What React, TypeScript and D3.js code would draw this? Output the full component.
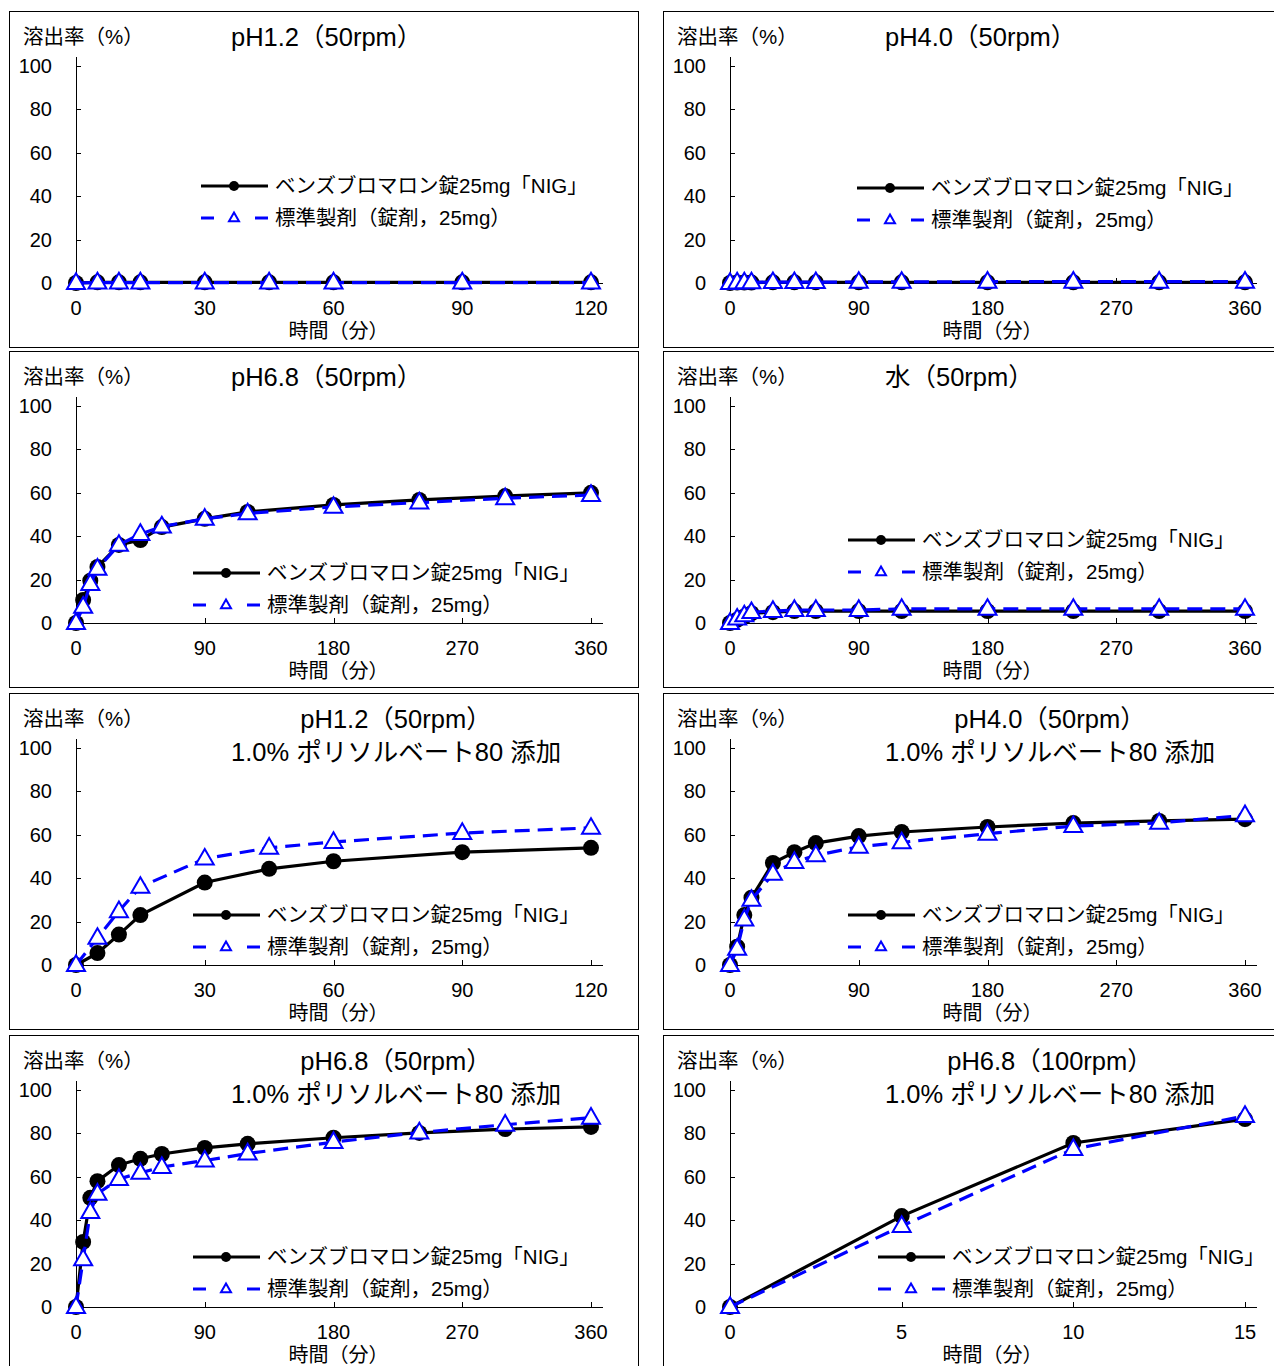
import React from "react";
import * as d3 from "d3";

// ---------- data ----------
const timesA = [0, 5, 10, 15, 30, 45, 60, 90, 120];
const timesB = [0, 5, 10, 15, 30, 45, 60, 90, 120, 180, 240, 300, 360];
const timesC = [0, 5, 10, 15];

const ticksA = [0, 30, 60, 90, 120];
const ticksB = [0, 90, 180, 270, 360];
const ticksC = [0, 5, 10, 15];
const yTicks = [0, 20, 40, 60, 80, 100];

const seriesNames = ["ベンズブロマロン錠25mg「NIG」", "標準製剤（錠剤，25mg）"];
const yAxisTitle = "溶出率（%）";
const xAxisTitle = "時間（分）";

// panel 1: pH1.2 (50rpm)
const p1Test = [0, 0.3, 0.3, 0.3, 0.3, 0.3, 0.3, 0.3, 0.3];
const p1Ref = [0, 0.2, 0.2, 0.2, 0.2, 0.2, 0.2, 0.2, 0.2];
// panel 2: pH4.0 (50rpm)
const p2Test = [0, 0.2, 0.2, 0.2, 0.3, 0.3, 0.3, 0.3, 0.3, 0.3, 0.3, 0.3, 0.3];
const p2Ref = [0, 0.2, 0.3, 0.3, 0.4, 0.4, 0.4, 0.5, 0.5, 0.6, 0.6, 0.6, 0.6];
// panel 3: pH6.8 (50rpm)
const p3Test = [0, 10.6, 19.5, 25.8, 36, 38.2, 44.2, 48, 51.2, 54.4, 56.7, 58.5, 60];
const p3Ref = [0, 7.5, 18, 25, 36, 41, 44.5, 48, 50.5, 53.5, 55.5, 57.5, 59];
// panel 4: water (50rpm)
const p4Test = [0, 1.5, 3, 4.5, 5, 5.5, 5.5, 5.5, 5.5, 5.5, 5.5, 5.5, 5.5];
const p4Ref = [0, 2, 3.5, 5, 5.5, 6, 6, 6, 6.5, 6.5, 6.5, 6.5, 6.5];
// panel 5: pH1.2 (50rpm) + 1.0% polysorbate 80
const p5Test = [0, 5.5, 14, 23, 38, 44.3, 47.8, 52, 54];
const p5Ref = [0, 12.5, 24.8, 36, 49, 54, 56.7, 60.8, 63.2];
// panel 6: pH4.0 (50rpm) + 1.0% polysorbate 80
const p6Test = [0, 8.4, 23, 31, 47, 52, 56.2, 59.4, 61.3, 63.6, 65.4, 66.4, 67.2];
const p6Ref = [0, 7.5, 21, 30, 42, 47.5, 50.5, 54.5, 56.5, 60.5, 64, 65.5, 69];
// panel 7: pH6.8 (50rpm) + 1.0% polysorbate 80
const p7Test = [0, 30, 50.3, 58, 65.4, 68.3, 70.5, 73.3, 75.2, 78, 80.2, 82, 83];
const p7Ref = [0, 22, 43.8, 52.2, 59, 61.8, 64.5, 67.5, 70.7, 76, 80.4, 84, 87.2];
// panel 8: pH6.8 (100rpm) + 1.0% polysorbate 80
const p8Test = [0, 41.9, 75.6, 86.6];
const p8Ref = [0, 37.3, 72.8, 88];

const titles = [
  ["pH1.2（50rpm）"],
  ["pH4.0（50rpm）"],
  ["pH6.8（50rpm）"],
  ["水（50rpm）"],
  ["pH1.2（50rpm）", "1.0% ポリソルベート80 添加"],
  ["pH4.0（50rpm）", "1.0% ポリソルベート80 添加"],
  ["pH6.8（50rpm）", "1.0% ポリソルベート80 添加"],
  ["pH6.8（100rpm）", "1.0% ポリソルベート80 添加"],
];

// ---------- layout ----------
const FONT = "'Liberation Sans', Arial, 'Noto Sans CJK JP', sans-serif";
const panelLeft = [9, 663];
const panelTop = [11, 351, 693, 1035];
const PW = 629;
const PH = 336;
const AX0 = 67; // y axis x offset in panel
const AX1 = 582; // x max offset
const AY100 = 55;
const AY0 = 272;

type PanelDef = {
  times: number[];
  xmax: number;
  ticks: number[];
  test: number[];
  ref: number[];
  legX: number;
  legY: number;
};

const panels: PanelDef[] = [
  { times: timesA, xmax: 120, ticks: ticksA, test: p1Test, ref: p1Ref, legX: 192, legY: 175 },
  { times: timesB, xmax: 360, ticks: ticksB, test: p2Test, ref: p2Ref, legX: 194, legY: 177 },
  { times: timesB, xmax: 360, ticks: ticksB, test: p3Test, ref: p3Ref, legX: 184, legY: 222 },
  { times: timesB, xmax: 360, ticks: ticksB, test: p4Test, ref: p4Ref, legX: 185, legY: 189 },
  { times: timesA, xmax: 120, ticks: ticksA, test: p5Test, ref: p5Ref, legX: 184, legY: 222 },
  { times: timesB, xmax: 360, ticks: ticksB, test: p6Test, ref: p6Ref, legX: 185, legY: 222 },
  { times: timesB, xmax: 360, ticks: ticksB, test: p7Test, ref: p7Ref, legX: 184, legY: 222 },
  { times: timesC, xmax: 15, ticks: ticksC, test: p8Test, ref: p8Ref, legX: 215, legY: 222 },
];

const BLUE = "#0000ff";

function triPath(cx: number, cy: number, s: number) {
  const h = s * 0.87;
  return `M${cx},${cy - h * 0.62}L${cx + s / 2},${cy + h * 0.38}L${cx - s / 2},${cy + h * 0.38}Z`;
}

function Panel({ idx }: { idx: number }) {
  const p = panels[idx];
  const col = idx % 2;
  const row = Math.floor(idx / 2);
  const px = panelLeft[col];
  const py = panelTop[row];
  const x = d3.scaleLinear().domain([0, p.xmax]).range([AX0, AX1]);
  const y = d3.scaleLinear().domain([0, 100]).range([AY0, AY100]);
  const pts = (vals: number[]) => p.times.map((t, i) => [x(t), y(vals[i])] as [number, number]);
  const line = d3.line<[number, number]>();
  const testPts = pts(p.test);
  const refPts = pts(p.ref);
  const title = titles[idx];
  const lx = p.legX;
  const ly = p.legY;
  return (
    <g transform={`translate(${px},${py})`}>
      <rect x={0.5} y={0.5} width={PW} height={PH} fill="#fff" stroke="#000" strokeWidth={1} />
      {/* axes */}
      <line x1={AX0 + 0.5} x2={AX0 + 0.5} y1={AY0} y2={AY100 - 9} stroke="#000" strokeWidth={1} />
      <line x1={AX0} x2={AX1 + 12} y1={AY0 + 0.5} y2={AY0 + 0.5} stroke="#000" strokeWidth={1} />
      {yTicks.map((v) => (
        <g key={"y" + v}>
          <line x1={AX0} x2={AX0 + 5} y1={Math.round(y(v)) + 0.5} y2={Math.round(y(v)) + 0.5} stroke="#000" />
          <text x={43} y={y(v)} dy="0.35em" textAnchor="end" fontSize={20} fontFamily={FONT}>
            {v}
          </text>
        </g>
      ))}
      {p.ticks.map((v) => (
        <g key={"x" + v}>
          <line x1={Math.round(x(v)) + 0.5} x2={Math.round(x(v)) + 0.5} y1={AY0} y2={AY0 - 5} stroke="#000" />
          <text x={x(v)} y={297} dy="0.35em" textAnchor="middle" fontSize={20} fontFamily={FONT}>
            {v}
          </text>
        </g>
      ))}
      <text x={(AX0 + AX1) / 2 + 5} y={320} dy="0.35em" textAnchor="middle" fontSize={20} fontFamily={FONT}>
        {xAxisTitle}
      </text>
      <text x={14} y={26} dy="0.35em" fontSize={20.5} fontFamily={FONT}>
        {yAxisTitle}
      </text>
      {title.length === 1 ? (
        <text x={222} y={26} dy="0.35em" fontSize={25.5} fontFamily={FONT}>
          {title[0]}
        </text>
      ) : (
        <g>
          <text x={387} y={26} dy="0.35em" textAnchor="middle" fontSize={25.5} fontFamily={FONT}>
            {title[0]}
          </text>
          <text x={222} y={59} dy="0.35em" fontSize={25.5} fontFamily={FONT}>
            {title[1]}
          </text>
        </g>
      )}
      {/* series */}
      <path d={line(testPts) || ""} fill="none" stroke="#000" strokeWidth={3.2} />
      {testPts.map((q, i) => (
        <circle key={"c" + i} cx={q[0]} cy={q[1]} r={8} fill="#000" />
      ))}
      <path d={line(refPts) || ""} fill="none" stroke={BLUE} strokeWidth={3.2} strokeDasharray="15,8" />
      {refPts.map((q, i) => (
        <path key={"t" + i} d={triPath(q[0], q[1], 18)} fill="#fff" stroke={BLUE} strokeWidth={2} />
      ))}
      {/* legend */}
      <line x1={lx} x2={lx + 67} y1={ly} y2={ly} stroke="#000" strokeWidth={3} />
      <circle cx={lx + 33} cy={ly} r={5} fill="#000" />
      <text x={lx + 74} y={ly} dy="0.35em" fontSize={20.5} fontFamily={FONT}>
        {seriesNames[0]}
      </text>
      <line x1={lx} x2={lx + 13} y1={ly + 32} y2={ly + 32} stroke={BLUE} strokeWidth={3} />
      <line x1={lx + 54} x2={lx + 67} y1={ly + 32} y2={ly + 32} stroke={BLUE} strokeWidth={3} />
      <path d={triPath(lx + 33, ly + 32, 10)} fill="#fff" stroke={BLUE} strokeWidth={2} />
      <text x={lx + 74} y={ly + 32} dy="0.35em" fontSize={20.5} fontFamily={FONT}>
        {seriesNames[1]}
      </text>
    </g>
  );
}

export default function App() {
  return (
    <svg width={1274} height={1358} style={{ display: "block" }}>
      <g transform="translate(-8,-8)">
        <rect x={0} y={0} width={1290} height={1370} fill="#fff" />
        {panels.map((_, i) => (
          <Panel key={i} idx={i} />
        ))}
      </g>
    </svg>
  );
}
